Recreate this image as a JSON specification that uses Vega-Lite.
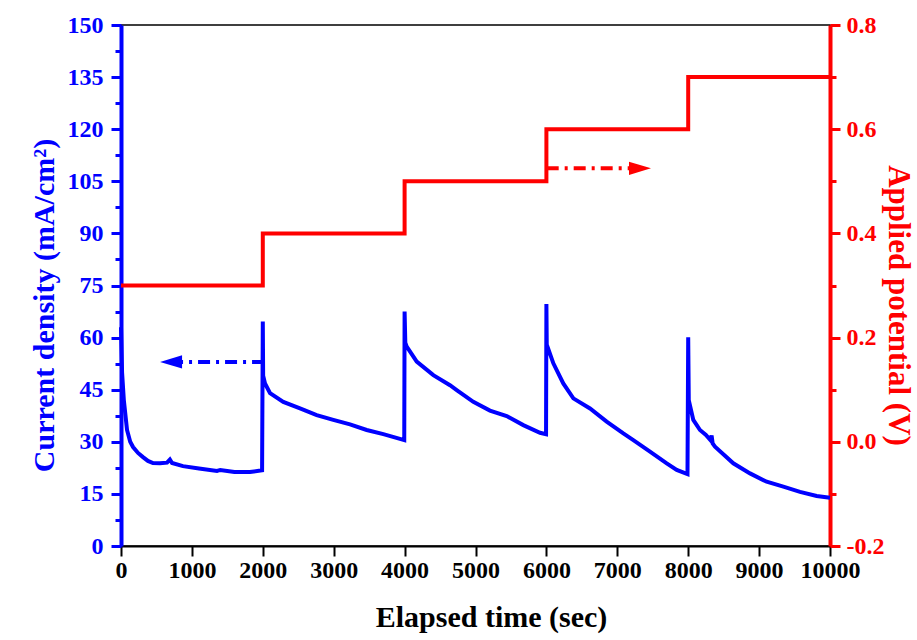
{
  "$schema": "https://vega.github.io/schema/vega-lite/v6.json",
  "width": 709,
  "height": 521,
  "autosize": {"type": "none"},
  "padding": {"left": 121, "top": 25, "right": 87, "bottom": 94},
  "config": {
    "view": {"stroke": "#000000", "strokeWidth": 1.5},
    "font": "Liberation Serif, Times New Roman, serif",
    "axis": {"labelFont": "Liberation Serif, Times New Roman, serif", "labelFontWeight": "bold", "titleFont": "Liberation Serif, Times New Roman, serif", "titleFontWeight": "bold", "grid": false}
  },
  "datasets": {
    "current": [
      {"t": 0, "j": 63}, {"t": 15, "j": 50}, {"t": 40, "j": 42}, {"t": 85, "j": 33.4}, {"t": 130, "j": 30},
      {"t": 170, "j": 28.5}, {"t": 240, "j": 26.8}, {"t": 310, "j": 25.6}, {"t": 380, "j": 24.5}, {"t": 451, "j": 23.9},
      {"t": 550, "j": 23.8}, {"t": 649, "j": 24.0}, {"t": 690, "j": 24.9}, {"t": 720, "j": 23.9}, {"t": 874, "j": 23.0},
      {"t": 1100, "j": 22.3}, {"t": 1354, "j": 21.6}, {"t": 1400, "j": 21.9}, {"t": 1600, "j": 21.3}, {"t": 1819, "j": 21.3},
      {"t": 1990, "j": 21.8}, {"t": 2000, "j": 64.6}, {"t": 2005, "j": 49}, {"t": 2031, "j": 46.8}, {"t": 2102, "j": 44},
      {"t": 2289, "j": 41.5}, {"t": 2525, "j": 39.6}, {"t": 2760, "j": 37.7}, {"t": 2994, "j": 36.3}, {"t": 3230, "j": 35},
      {"t": 3465, "j": 33.4}, {"t": 3700, "j": 32.2}, {"t": 3959, "j": 30.7}, {"t": 3995, "j": 30.5}, {"t": 4000, "j": 67.5},
      {"t": 4010, "j": 58.5}, {"t": 4030, "j": 57.4}, {"t": 4171, "j": 53.1}, {"t": 4405, "j": 49.2}, {"t": 4640, "j": 46.3},
      {"t": 4735, "j": 44.9}, {"t": 4969, "j": 41.5}, {"t": 5204, "j": 39}, {"t": 5440, "j": 37.4}, {"t": 5674, "j": 34.8},
      {"t": 5910, "j": 32.6}, {"t": 5995, "j": 32.2}, {"t": 6000, "j": 69.7}, {"t": 6005, "j": 58}, {"t": 6098, "j": 52.6},
      {"t": 6238, "j": 46.8}, {"t": 6380, "j": 42.5}, {"t": 6615, "j": 39.6}, {"t": 6850, "j": 35.8}, {"t": 7085, "j": 32.4},
      {"t": 7226, "j": 30.5}, {"t": 7461, "j": 27.2}, {"t": 7697, "j": 23.8}, {"t": 7838, "j": 21.9}, {"t": 7990, "j": 20.7},
      {"t": 8000, "j": 60.1}, {"t": 8008, "j": 42}, {"t": 8072, "j": 36.3}, {"t": 8166, "j": 33.4}, {"t": 8250, "j": 32},
      {"t": 8310, "j": 30.6}, {"t": 8330, "j": 31.8}, {"t": 8345, "j": 29.5}, {"t": 8378, "j": 28.6}, {"t": 8636, "j": 23.8},
      {"t": 8872, "j": 20.9}, {"t": 9107, "j": 18.5}, {"t": 9342, "j": 17.1}, {"t": 9577, "j": 15.6}, {"t": 9812, "j": 14.4},
      {"t": 10000, "j": 13.9}
    ],
    "potential": [
      {"t": 0, "v": 0.3}, {"t": 2000, "v": 0.4}, {"t": 4000, "v": 0.5}, {"t": 6000, "v": 0.6}, {"t": 8000, "v": 0.7}, {"t": 10000, "v": 0.7}
    ],
    "blueArrow": [{"t": 706, "j": 53}, {"t": 1995, "j": 53}],
    "blueHead": [{"t": 706, "j": 53}],
    "redArrow": [{"t": 6004, "v": 0.525}, {"t": 7250, "v": 0.525}],
    "redHead": [{"t": 7320, "v": 0.525}]
  },
  "layer": [
    {
      "encoding": {
        "x": {
          "field": "t", "type": "quantitative",
          "scale": {"domain": [0, 10000], "nice": false, "zero": false},
          "axis": {
            "title": "Elapsed time (sec)",
            "values": [0, 500, 1000, 1500, 2000, 2500, 3000, 3500, 4000, 4500, 5000, 5500, 6000, 6500, 7000, 7500, 8000, 8500, 9000, 9500, 10000],
            "labelExpr": "datum.value % 1000 === 0 ? datum.value : ''",
            "domainColor": "#000000", "domainWidth": 2,
            "tickColor": "#000000", "tickWidth": 2,
            "tickSize": {"condition": {"test": "datum.value % 1000 === 0", "value": 10}, "value": 6},
            "labelColor": "#000000", "labelFontSize": 24, "labelPadding": 2,
            "titleColor": "#000000", "titleFontSize": 30, "titlePadding": 20, "titleX": 370,
            "labelOverlap": false, "labelFlush": false
          }
        },
        "y": {
          "field": "j", "type": "quantitative",
          "scale": {"domain": [0, 150], "nice": false},
          "axis": {
            "title": "Current density (mA/cm²)",
            "values": [0, 7.5, 15, 22.5, 30, 37.5, 45, 52.5, 60, 67.5, 75, 82.5, 90, 97.5, 105, 112.5, 120, 127.5, 135, 142.5, 150],
            "labelExpr": "datum.value % 15 === 0 ? datum.value : ''",
            "domainColor": "#0000ff", "domainWidth": 4,
            "tickColor": "#0000ff", "tickWidth": 3,
            "tickSize": {"condition": {"test": "datum.value % 15 === 0", "value": 10}, "value": 6},
            "labelColor": "#0000ff", "labelFontSize": 24, "labelPadding": 8,
            "titleColor": "#0000ff", "titleFontSize": 30, "titlePadding": 8, "titleY": 280,
            "labelOverlap": false, "labelFlush": false
          }
        }
      },
      "layer": [
        {"data": {"name": "current"}, "mark": {"type": "line", "color": "#0000ff", "strokeWidth": 4}},
        {"data": {"name": "blueArrow"}, "mark": {"type": "line", "color": "#0000ff", "strokeWidth": 4, "strokeDash": [12, 6, 3, 6]}},
        {"data": {"name": "blueHead"}, "mark": {"type": "point", "shape": "M-1,0L1,-0.6L1,0.6Z", "filled": true, "color": "#0000ff", "opacity": 1, "size": 484}}
      ]
    },
    {
      "encoding": {
        "x": {"field": "t", "type": "quantitative", "scale": {"domain": [0, 10000], "nice": false, "zero": false}},
        "y": {
          "field": "v", "type": "quantitative",
          "scale": {"domain": [-0.2, 0.8], "nice": false, "zero": false},
          "axis": {
            "orient": "right",
            "title": "Applied potential (V)",
            "values": [-0.2, -0.1, 0, 0.1, 0.2, 0.3, 0.4, 0.5, 0.6, 0.7, 0.8],
            "labelExpr": "round(datum.value * 10) % 2 === 0 ? replace(format(datum.value, '.1f'), '−', '-') : ''",
            "domainColor": "#ff0000", "domainWidth": 4,
            "tickColor": "#ff0000", "tickWidth": 3,
            "tickSize": {"condition": {"test": "round(datum.value * 10) % 2 === 0", "value": 10}, "value": 6},
            "labelColor": "#ff0000", "labelFontSize": 24, "labelPadding": 6,
            "titleColor": "#ff0000", "titleFontSize": 31, "titlePadding": -2, "titleY": 280,
            "labelOverlap": false, "labelFlush": false
          }
        }
      },
      "layer": [
        {"data": {"name": "potential"}, "mark": {"type": "line", "color": "#ff0000", "strokeWidth": 4, "interpolate": "step-after"}},
        {"data": {"name": "redArrow"}, "mark": {"type": "line", "color": "#ff0000", "strokeWidth": 4, "strokeDash": [12, 6, 3, 6]}},
        {"data": {"name": "redHead"}, "mark": {"type": "point", "shape": "M1,0L-1,-0.6L-1,0.6Z", "filled": true, "color": "#ff0000", "opacity": 1, "size": 484}}
      ]
    }
  ],
  "resolve": {"scale": {"y": "independent"}}
}
